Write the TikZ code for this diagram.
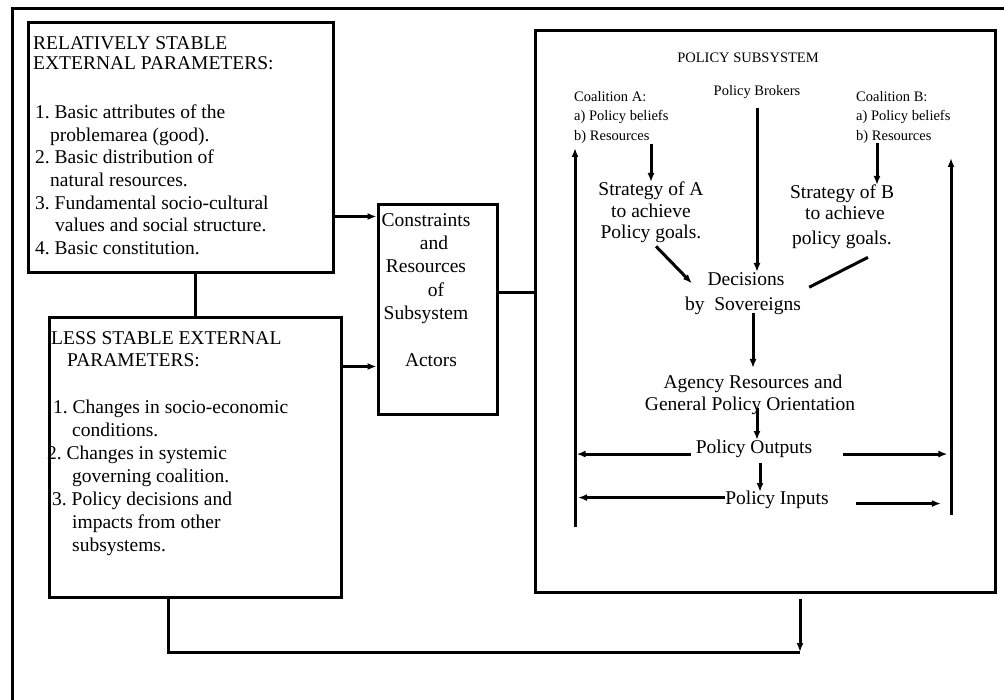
\documentclass[tikz,border=0pt]{standalone}
\usepackage{fontspec}
\setmainfont{Liberation Serif}
\usetikzlibrary{arrows.meta}
\frenchspacing
\begin{document}
\begin{tikzpicture}[x=1pt,y=-1pt,
  box/.style={draw, line width=3pt, rectangle, inner sep=0pt},
  wire/.style={line width=3pt},
  arr/.style={wire, -{Latex[length=9pt,width=7pt]}},
  big/.style={inner sep=0pt, font=\fontsize{19.5}{22.7}\selectfont},
  small/.style={inner sep=0pt, font=\fontsize{14.5}{19.5}\selectfont},
]
\useasboundingbox (0,0) rectangle (1004,700);
\clip (0,0) rectangle (1004,700);

% outer frame running off the page
\draw[wire] (12,710) -- (12,9) -- (1010,9);

% main boxes
\node[box, minimum width=305pt, minimum height=250pt] (b1) at (180.5,148) {};
\node[box, minimum width=292pt, minimum height=279pt] (b2) at (195,457.5) {};
\node[box, minimum width=119pt, minimum height=210pt] (cb) at (437.5,310) {};
\node[box, minimum width=460pt, minimum height=561pt] (sub) at (765,311.5) {};

% external parameters
\node[big, anchor=north west, align=left] (t1) at (33,36.2)
  {RELATIVELY STABLE\\[-2.7pt]
   EXTERNAL PARAMETERS:\\[26.3pt]
   \hspace*{2pt}1. Basic attributes of the\\
   \hspace*{17pt}problemarea (good).\\
   \hspace*{2pt}2. Basic distribution of\\
   \hspace*{17pt}natural resources.\\
   \hspace*{2pt}3. Fundamental socio-cultural\\
   \hspace*{22pt}values and social structure.\\
   \hspace*{2pt}4. Basic constitution.};

\node[big, font=\fontsize{19.5}{23}\selectfont, anchor=north west, align=left] (t2) at (51,331.2)
  {LESS STABLE EXTERNAL\\[-1pt]
   \hspace*{16pt}PARAMETERS:\\[24pt]
   \hspace*{2pt}1. Changes in socio-economic\\
   \hspace*{21pt}conditions.\\
   \hspace*{-4pt}2. Changes in systemic\\
   \hspace*{21pt}governing coalition.\\
   \hspace*{1pt}3. Policy decisions and\\
   \hspace*{21pt}impacts from other\\
   \hspace*{21pt}subsystems.};

\node[big, font=\fontsize{19.5}{23.3}\selectfont, anchor=north, align=center] (t3) at (426,213.2)
  {Constraints\\
   \hspace*{16pt}and\\
   Resources\\
   \hspace*{20pt}of\\
   Subsystem\\[23.3pt]
   \hspace*{10pt}Actors};

% policy subsystem contents
\node[small, anchor=north] (title) at (748,52.4) {POLICY SUBSYSTEM};
\node[small, anchor=north] (pb) at (757,85) {Policy Brokers};
\node[small, anchor=north west, align=left] (cA) at (574,91.1)
  {Coalition A:\\a) Policy beliefs\\b) Resources};
\node[small, anchor=north west, align=left] (cB) at (856,91.1)
  {Coalition B:\\a) Policy beliefs\\b) Resources};

\node[big, font=\fontsize{19.5}{21.5}\selectfont, anchor=north, align=center] (sA) at (651,182)
  {Strategy of A\\to achieve\\Policy goals.};
\node[big, font=\fontsize{19.5}{21}\selectfont, anchor=north, align=center] (sB) at (842,185)
  {Strategy of B\\\hspace*{6pt}to achieve\\[4pt]policy goals.};

\node[big, font=\fontsize{19.5}{25}\selectfont, anchor=north, align=center] (dec) at (743,272)
  {\hspace*{6pt}Decisions\\by~ Sovereigns};
\node[big, font=\fontsize{19.5}{22}\selectfont, anchor=north, align=center] (ag) at (750,375)
  {\hspace*{6pt}Agency Resources and\\General Policy Orientation};
\node[big, anchor=north] (out) at (754,440) {Policy Outputs};
\node[big, anchor=north] (in) at (777,491) {Policy Inputs};

% external connectors
\draw[arr] ([yshift=58pt]b1.south east) coordinate (p1) -- (p1 -| cb.west);
\draw[arr] ([yshift=-50pt]b2.north east) coordinate (p2) -- (p2 -| cb.west);
\draw[wire] ([yshift=17pt]cb.east) coordinate (p3) -- (p3 -| sub.west);
\draw[wire] (b2.north) -- (b2.north |- b1.south);
\coordinate (fb) at (800,652);
\draw[wire] ([xshift=-27pt]b2.south) |- (fb);
\draw[arr] ([xshift=35pt,yshift=-5pt]sub.south) -- (fb);

% feedback lines inside the subsystem
\coordinate (la) at (575,527);
\coordinate (lt) at (575,148);
\draw[arr] (la) -- (lt);
\coordinate (ra) at (951,515);
\coordinate (rt) at (951,158);
\draw[arr] (ra) -- (rt);

% flows inside the subsystem
\draw[arr] (sA.north |- cA.south) -- (sA.north);
\draw[arr] ([xshift=35pt,yshift=42pt]sB.north) -- ([xshift=35pt]sB.north);
\draw[arr] ([yshift=-9pt]pb.south) -- (pb.south |- dec.north);
\draw[arr] ([shift={(5pt,-3pt)}]sA.south) -- ([shift={(7pt,10pt)}]dec.west);
\draw[wire] ([shift={(26pt,-8pt)}]sB.south) -- ([shift={(8pt,6pt)}]dec.east);
\draw[arr] ([shift={(10pt,2pt)}]dec.south) -- ([shift={(3pt,7pt)}]ag.north);
\draw[arr] ([shift={(7pt,7pt)}]ag.south) -- ([xshift=3pt]out.north);
\draw[arr] ([shift={(6pt,-5pt)}]out.south) -- ([shift={(-17pt,-1pt)}]in.north);

\draw[arr] ([shift={(-5pt,-5pt)}]out.west) -- ++(-114,0);
\draw[arr] ([shift={(31pt,-5pt)}]out.east) -- ++(104,0);
\draw[arr] ([yshift=2.5pt]in.west) -- ++(-147,0);
\draw[arr] ([shift={(27pt,-3.5pt)}]in.east) -- ++(85,0);
\end{tikzpicture}
\end{document}
